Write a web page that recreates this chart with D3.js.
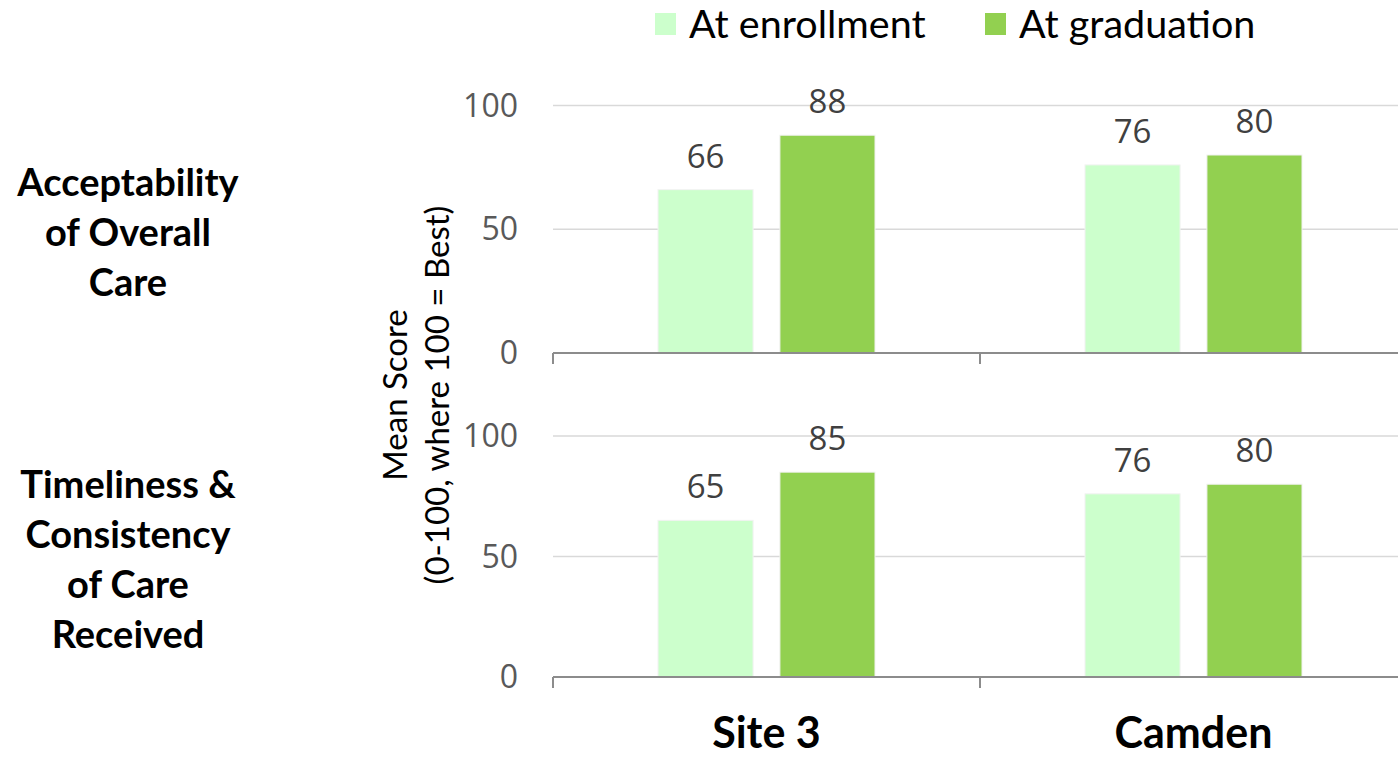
<!DOCTYPE html>
<html>
<head>
<meta charset="utf-8">
<script src="https://cdn.jsdelivr.net/npm/d3@7"></script>
<style>
  html, body { margin: 0; padding: 0; background: #fff; }
  svg { display: block; }
</style>
</head>
<body>
<svg id="chart" width="1398" height="758"></svg>
<script>
// Sites along the x axis
const sites = ["Site 3", "Camden"];
// Series shown side by side within each site
const seriesNames = ["At enrollment", "At graduation"];
const seriesColors = ["#CCFFCC", "#92D050"];
// One panel per measure
const measures = [
  ["Acceptability", "of Overall", "Care"],
  ["Timeliness &", "Consistency", "of Care", "Received"]
];
// Mean scores [enrollment, graduation] per site
const acceptability = { "Site 3": [66, 88], "Camden": [76, 80] };
const timeliness    = { "Site 3": [65, 85], "Camden": [76, 80] };
const panelValues = [acceptability, timeliness];
const yTicks = [0, 50, 100];

const svg = d3.select("#chart");
const font = "'Lato', 'Open Sans', sans-serif";
const numFont = "'Open Sans', sans-serif";

const plotLeft = 553, plotRight = 1407;
const panels = [
  { y0: 353, y100: 105.5 },
  { y0: 677, y100: 436 }
];

const x = d3.scaleBand().domain(sites).range([plotLeft, plotRight]).padding(0);
const bw = x.bandwidth();
const groupW = 217;
const xInner = d3.scaleBand().domain(seriesNames)
  .range([(bw - groupW) / 2, (bw + groupW) / 2])
  .paddingInner(0.22);

panels.forEach((p, i) => {
  const y = d3.scaleLinear().domain([0, 100]).range([p.y0, p.y100]);
  const g = svg.append("g");

  // horizontal gridlines
  g.selectAll("line.grid").data(yTicks.filter(t => t > 0)).join("line")
    .attr("x1", plotLeft).attr("x2", plotRight)
    .attr("y1", d => y(d)).attr("y2", d => y(d))
    .attr("stroke", "#d9d9d9").attr("stroke-width", 1.5);

  // y tick labels
  g.selectAll("text.tick").data(yTicks).join("text")
    .attr("x", 518).attr("y", d => y(d))
    .attr("dy", "0.35em")
    .attr("text-anchor", "end")
    .attr("font-family", numFont).attr("font-size", 32)
    .attr("fill", "#595959")
    .text(d => d);

  // bars
  const data = [];
  sites.forEach(s => panelValues[i][s].forEach((v, k) => data.push({ site: s, series: seriesNames[k], k, v })));
  g.selectAll("rect.bar").data(data).join("rect")
    .attr("x", d => x(d.site) + xInner(d.series))
    .attr("width", xInner.bandwidth())
    .attr("y", d => y(d.v))
    .attr("height", d => y(0) - y(d.v))
    .attr("fill", d => seriesColors[d.k])
    .attr("stroke", "#f2f2f2").attr("stroke-width", 1);

  // value labels
  g.selectAll("text.val").data(data).join("text")
    .attr("x", d => x(d.site) + xInner(d.series) + xInner.bandwidth() / 2)
    .attr("y", d => y(d.v) - 22)
    .attr("text-anchor", "middle")
    .attr("font-family", numFont).attr("font-size", 33)
    .attr("fill", "#404040")
    .text(d => d.v);

  // x axis baseline with category-boundary ticks
  g.append("line")
    .attr("x1", plotLeft).attr("x2", plotRight)
    .attr("y1", y(0)).attr("y2", y(0))
    .attr("stroke", "#8c8c8c").attr("stroke-width", 2);
  g.selectAll("line.sep").data([plotLeft, x("Camden")]).join("line")
    .attr("x1", d => d).attr("x2", d => d)
    .attr("y1", y(0)).attr("y2", y(0) + 11)
    .attr("stroke", "#8c8c8c").attr("stroke-width", 2);

  // measure name on the left
  const lines = measures[i];
  const cy = (p.y0 + p.y100) / 2 + 3;
  const lh = 50;
  g.append("text")
    .attr("font-family", font).attr("font-weight", 700).attr("font-size", 38)
    .attr("fill", "#000").attr("text-anchor", "middle")
    .selectAll("tspan").data(lines).join("tspan")
    .attr("x", 128)
    .attr("y", (d, j) => cy + (j - (lines.length - 1) / 2) * lh)
    .attr("dy", "0.35em")
    .text(d => d);
});

// site labels below the lower panel
svg.selectAll("text.site").data(sites).join("text")
  .attr("x", d => x(d) + bw / 2)
  .attr("y", 748)
  .attr("text-anchor", "middle")
  .attr("font-family", font).attr("font-weight", 700).attr("font-size", 43)
  .attr("fill", "#000")
  .text(d => d);

// shared y axis title
const yt = svg.append("text")
  .attr("transform", "translate(395,395) rotate(-90)")
  .attr("text-anchor", "middle")
  .attr("font-family", font).attr("font-size", 33)
  .attr("fill", "#000");
yt.append("tspan").attr("x", 0).attr("y", 0).attr("dy", "0.35em").text("Mean Score");
yt.append("tspan").attr("x", 0).attr("y", 42).attr("dy", "0.35em").text("(0-100, where 100 = Best)");

// legend
const legendX = [655, 985];
const lg = svg.selectAll("g.legend").data(seriesNames).join("g")
  .attr("transform", (d, i) => `translate(${legendX[i]},0)`);
lg.append("rect").attr("x", 0).attr("y", 13).attr("width", 21).attr("height", 22)
  .attr("fill", (d, i) => seriesColors[i]);
lg.append("text").attr("x", 34).attr("y", 24).attr("dy", "0.35em")
  .attr("font-family", font).attr("font-size", 39.5).attr("fill", "#000")
  .text(d => d);
</script>
</body>
</html>
